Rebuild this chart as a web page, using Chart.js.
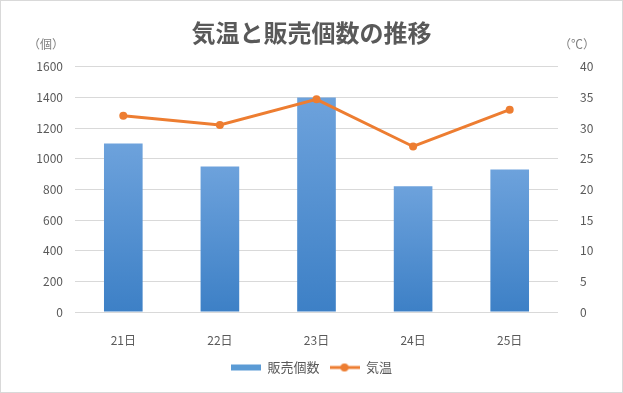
<!DOCTYPE html>
<html>
<head>
<meta charset="utf-8">
<script src="https://cdn.jsdelivr.net/npm/chart.js@4"></script>
<style>
  body { margin: 0; background: #fff; }
  #box {
    position: absolute; left: 0; top: 0;
    width: 623px; height: 393px;
    box-sizing: border-box;
    border: 1px solid #d9d9d9;
    background: #fff;
  }
  #wrap { width: 621px; height: 391px; }
</style>
</head>
<body>
<div id="box"><div id="wrap"><canvas id="chart"></canvas></div></div>
<script>
const days = ["21日", "22日", "23日", "24日", "25日"];
const sales = [1100, 950, 1400, 820, 930];
const temps = [32, 30.5, 34.7, 27, 33];

const fontJP = "'Noto Sans CJK JP', sans-serif";
const gray = "#595959";

// legend icons
function makeIcon(kind) {
  const c = document.createElement("canvas");
  c.width = 30; c.height = 10;
  const g = c.getContext("2d");
  if (kind === "bar") {
    g.fillStyle = "#5b9bd5";
    g.fillRect(0, 2, 30, 6);
  } else {
    g.strokeStyle = "#ed7d31";
    g.lineWidth = 3;
    g.beginPath(); g.moveTo(0, 5); g.lineTo(30, 5); g.stroke();
    g.fillStyle = "#ed7d31";
    g.beginPath(); g.arc(15, 5, 4, 0, Math.PI * 2); g.fill();
  }
  return c;
}
const icons = [makeIcon("bar"), makeIcon("line")];

function barGradient(ctx) {
  const chart = ctx.chart;
  if (!chart.chartArea || ctx.raw === undefined) return "#5b9bd5";
  const y = chart.scales.y;
  const top = y.getPixelForValue(ctx.raw);
  const bottom = y.getPixelForValue(0);
  const g = chart.ctx.createLinearGradient(0, top, 0, bottom);
  g.addColorStop(0, "#6da2dc");
  g.addColorStop(1, "#3d80c6");
  return g;
}

const unitLabels = {
  id: "unitLabels",
  afterDraw(chart) {
    const c = chart.ctx;
    c.save();
    c.font = "12px " + fontJP;
    c.fillStyle = "#7f7f7f";
    c.textAlign = "center";
    c.textBaseline = "middle";
    c.fillText("（個）", 45, 43);
    c.fillText("（℃）", 576, 43);
    c.restore();
  }
};

new Chart(document.getElementById("chart"), {
  type: "bar",
  data: {
    labels: days,
    datasets: [
      {
        type: "bar",
        label: "販売個数",
        data: sales,
        backgroundColor: barGradient,
        barPercentage: 0.8,
        categoryPercentage: 0.5,
        yAxisID: "y",
        order: 2
      },
      {
        type: "line",
        label: "気温",
        data: temps,
        borderColor: "#ed7d31",
        backgroundColor: "#ed7d31",
        borderWidth: 3,
        pointRadius: 4,
        pointBackgroundColor: "#ed7d31",
        pointBorderWidth: 0,
        yAxisID: "y1",
        order: 1
      }
    ]
  },
  options: {
    responsive: true,
    maintainAspectRatio: false,
    animation: false,
    layout: { padding: { top: 0, left: 0, right: 0, bottom: 8 } },
    plugins: {
      title: {
        display: true,
        text: "気温と販売個数の推移",
        color: gray,
        font: { family: fontJP, size: 24, weight: "bold" },
        padding: { top: 17, bottom: 20 }
      },
      legend: {
        position: "bottom",
        labels: {
          usePointStyle: true,
          pointStyleWidth: 30,
          color: gray,
          font: { family: fontJP, size: 13 },
          padding: 10,
          generateLabels(chart) {
            return chart.data.datasets.map((ds, i) => ({
              text: ds.label,
              pointStyle: icons[i],
              fontColor: gray,
              lineWidth: 0,
              strokeStyle: "transparent",
              fillStyle: "transparent",
              datasetIndex: i,
              hidden: false
            }));
          }
        }
      },
      tooltip: { enabled: false }
    },
    scales: {
      x: {
        grid: { display: false },
        border: { display: false },
        ticks: { color: gray, font: { family: fontJP, size: 12 }, padding: 13 },
        afterFit(scale) { scale.height = 39; }
      },
      y: {
        position: "left",
        min: 0,
        max: 1600,
        ticks: {
          stepSize: 200, color: gray, font: { family: fontJP, size: 12 }, padding: 12,
          callback: v => String(v)
        },
        grid: { color: "#d9d9d9", drawTicks: false },
        border: { display: false },
        afterFit(scale) { scale.width = 74; }
      },
      y1: {
        position: "right",
        min: 0,
        max: 40,
        ticks: {
          stepSize: 5, color: gray, font: { family: fontJP, size: 12 }, padding: 14,
          callback: v => String(v)
        },
        grid: { display: false },
        border: { display: false },
        afterFit(scale) { scale.width = 64; }
      }
    }
  },
  plugins: [unitLabels]
});
</script>
</body>
</html>
